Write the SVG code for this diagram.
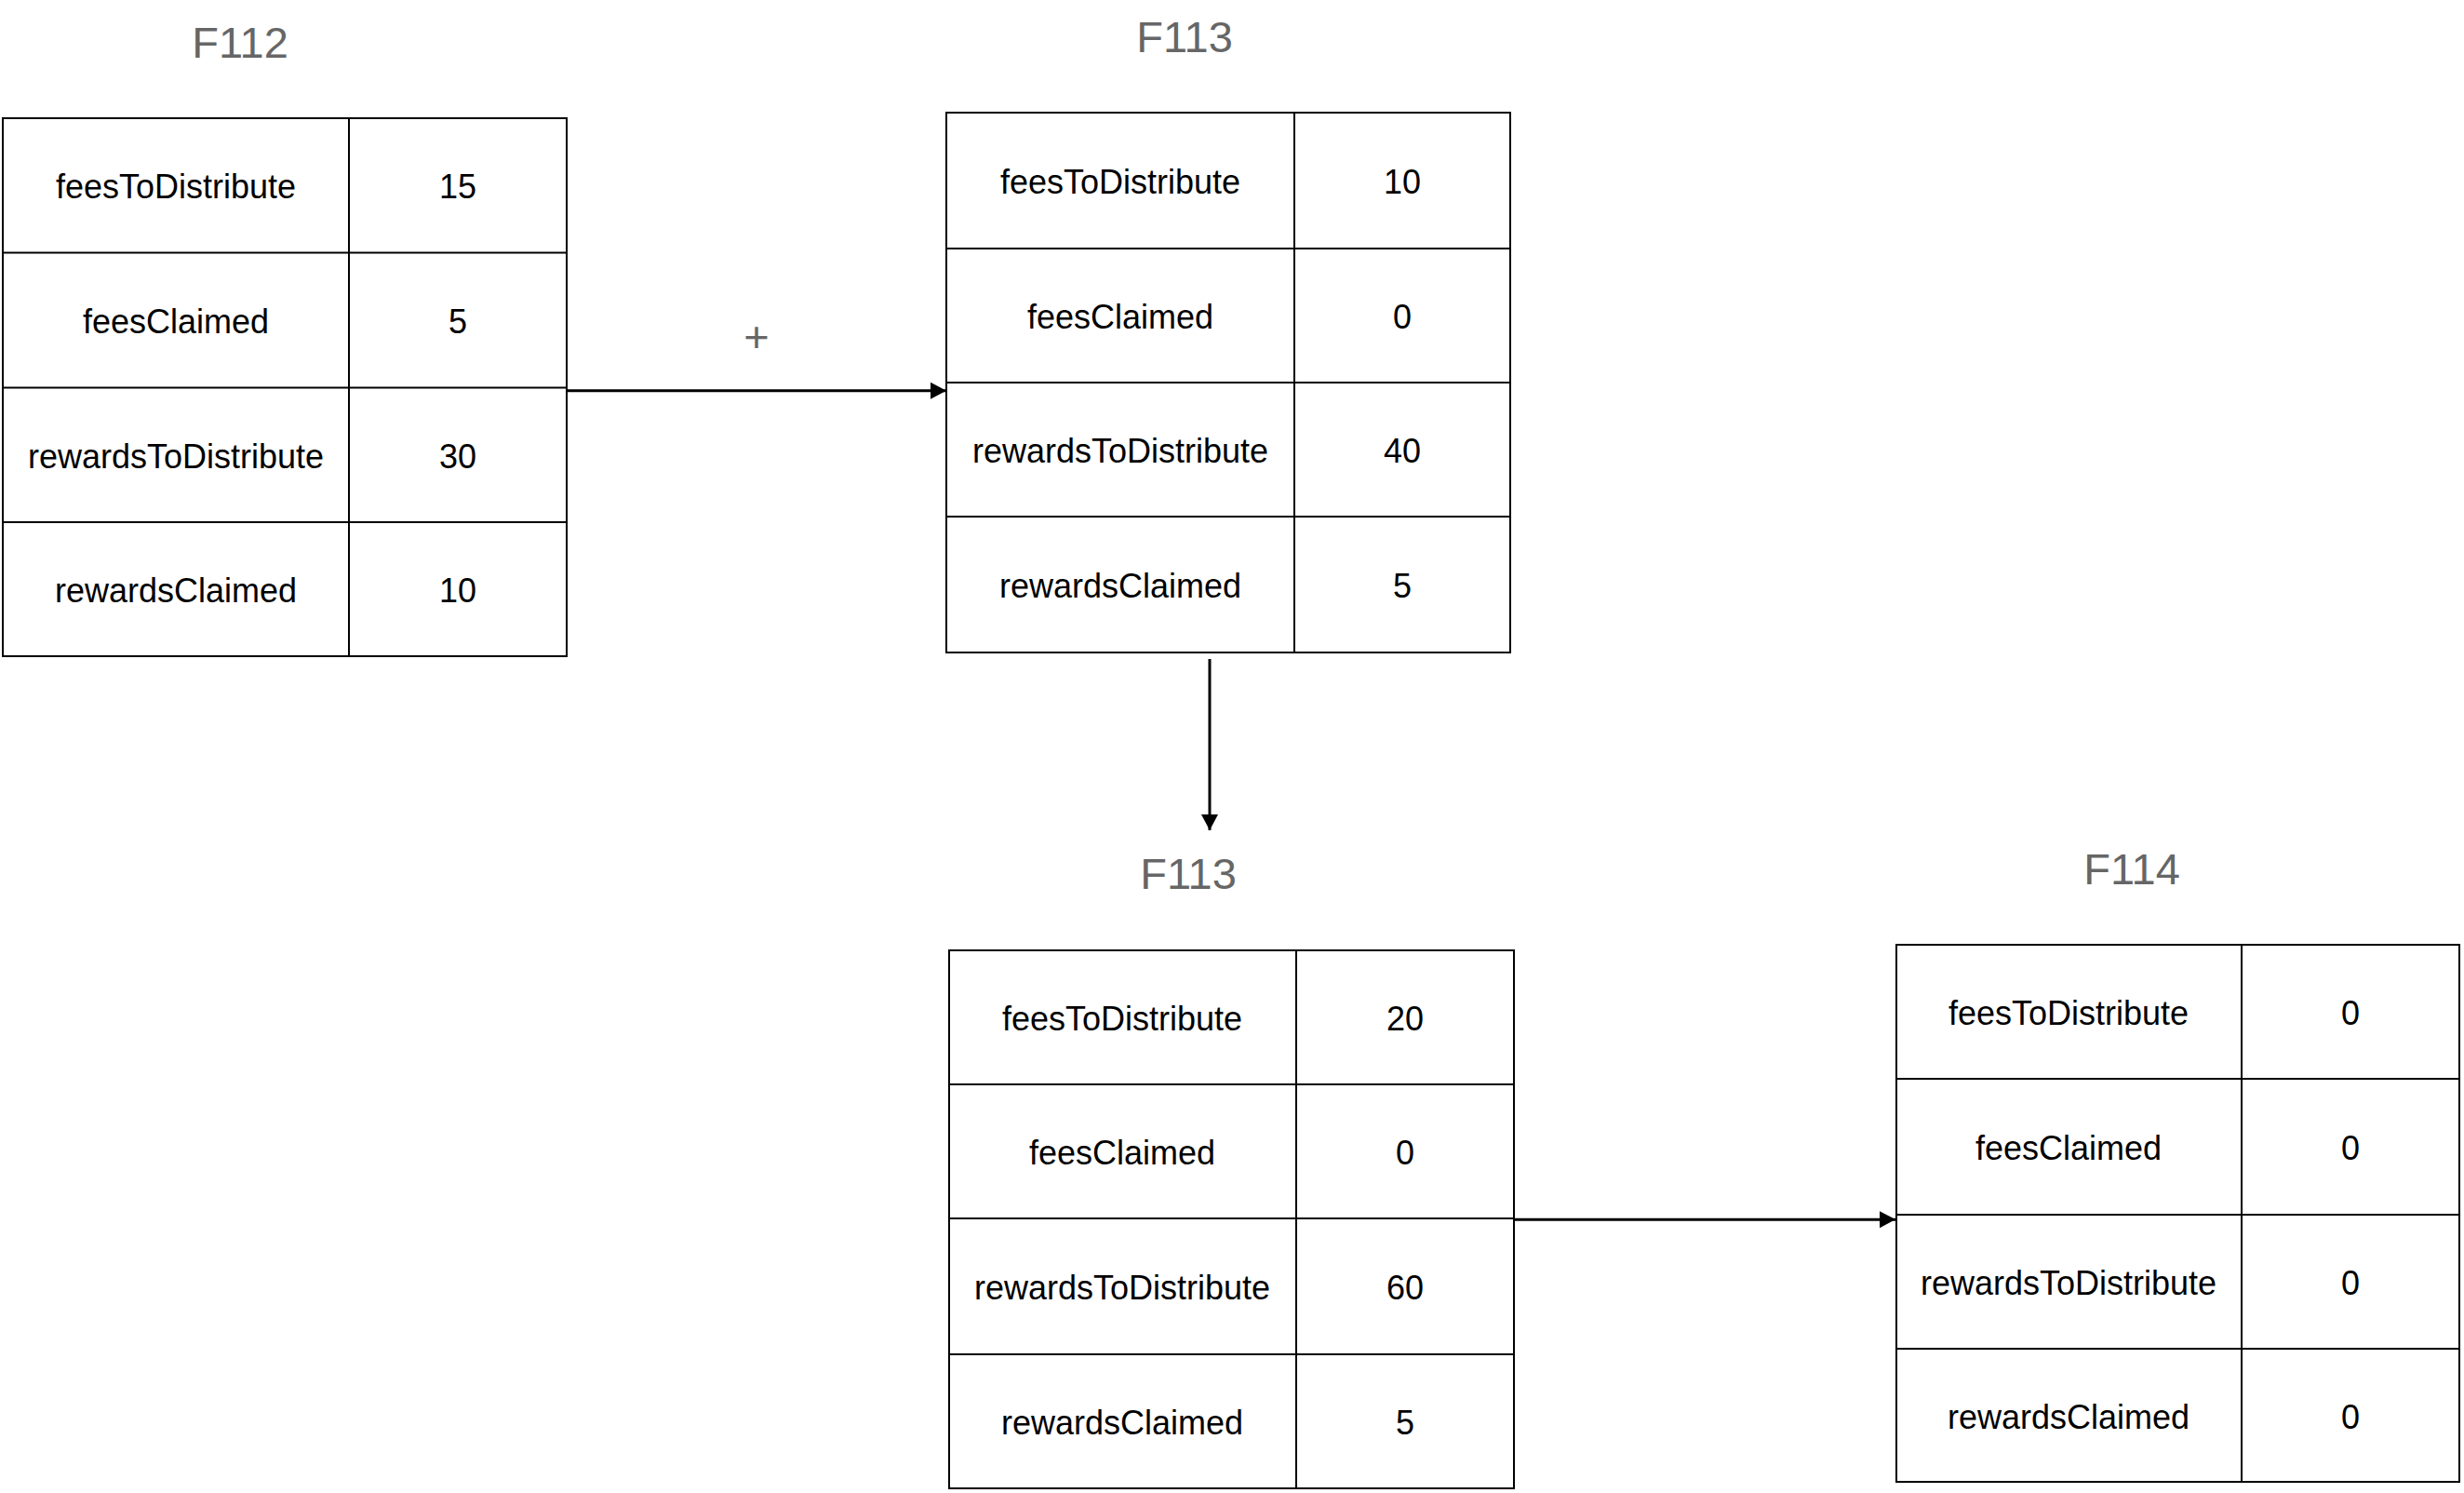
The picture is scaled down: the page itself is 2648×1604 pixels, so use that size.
<svg xmlns="http://www.w3.org/2000/svg" width="2648" height="1604" viewBox="0 0 2648 1604">
<style>
.cell{fill:#ffffff;stroke:#000000;stroke-width:2}
.t{font-family:"Liberation Sans",Arial,Helvetica,sans-serif;font-size:36px;fill:#000000;text-anchor:middle}
.title{font-family:"Liberation Sans",Arial,Helvetica,sans-serif;font-size:47px;fill:#666666;text-anchor:middle}
.edge{fill:none;stroke:#000000;stroke-width:3}
</style>
<defs>
<marker id="arr" markerUnits="userSpaceOnUse" markerWidth="18" markerHeight="20" refX="17" refY="9" orient="auto" viewBox="0 0 18 18">
<path d="M0,0 L17,9 L0,18 Z" fill="#000000"/>
</marker>
</defs>
<rect width="2648" height="1604" fill="#ffffff"/>

<g id="F112">
<text class="title" x="258" y="62">F112</text>
<rect class="cell" x="3" y="127" width="606" height="578"/>
<line class="cell" x1="3" y1="271.5" x2="609" y2="271.5"/>
<line class="cell" x1="3" y1="416.5" x2="609" y2="416.5"/>
<line class="cell" x1="3" y1="561" x2="609" y2="561"/>
<line class="cell" x1="375" y1="127" x2="375" y2="705"/>
<text class="t" x="189" y="213">feesToDistribute</text>
<text class="t" x="492" y="213">15</text>
<text class="t" x="189" y="358">feesClaimed</text>
<text class="t" x="492" y="358">5</text>
<text class="t" x="189" y="503">rewardsToDistribute</text>
<text class="t" x="492" y="503">30</text>
<text class="t" x="189" y="647">rewardsClaimed</text>
<text class="t" x="492" y="647">10</text>
</g>

<g id="F113a">
<text class="title" x="1273" y="56">F113</text>
<rect class="cell" x="1017" y="121" width="606" height="580"/>
<line class="cell" x1="1017" y1="267" x2="1623" y2="267"/>
<line class="cell" x1="1017" y1="411" x2="1623" y2="411"/>
<line class="cell" x1="1017" y1="555" x2="1623" y2="555"/>
<line class="cell" x1="1391" y1="121" x2="1391" y2="701"/>
<text class="t" x="1204" y="208">feesToDistribute</text>
<text class="t" x="1507" y="208">10</text>
<text class="t" x="1204" y="353">feesClaimed</text>
<text class="t" x="1507" y="353">0</text>
<text class="t" x="1204" y="497">rewardsToDistribute</text>
<text class="t" x="1507" y="497">40</text>
<text class="t" x="1204" y="642">rewardsClaimed</text>
<text class="t" x="1507" y="642">5</text>
</g>

<g id="F113b">
<text class="title" x="1277" y="955">F113</text>
<rect class="cell" x="1020" y="1021" width="607" height="578"/>
<line class="cell" x1="1020" y1="1165" x2="1627" y2="1165"/>
<line class="cell" x1="1020" y1="1309" x2="1627" y2="1309"/>
<line class="cell" x1="1020" y1="1455" x2="1627" y2="1455"/>
<line class="cell" x1="1393" y1="1021" x2="1393" y2="1599"/>
<text class="t" x="1206" y="1107">feesToDistribute</text>
<text class="t" x="1510" y="1107">20</text>
<text class="t" x="1206" y="1251">feesClaimed</text>
<text class="t" x="1510" y="1251">0</text>
<text class="t" x="1206" y="1396">rewardsToDistribute</text>
<text class="t" x="1510" y="1396">60</text>
<text class="t" x="1206" y="1541">rewardsClaimed</text>
<text class="t" x="1510" y="1541">5</text>
</g>

<g id="F114">
<text class="title" x="2291" y="950">F114</text>
<rect class="cell" x="2038" y="1015" width="605" height="577"/>
<line class="cell" x1="2038" y1="1159" x2="2643" y2="1159"/>
<line class="cell" x1="2038" y1="1305" x2="2643" y2="1305"/>
<line class="cell" x1="2038" y1="1449" x2="2643" y2="1449"/>
<line class="cell" x1="2409" y1="1015" x2="2409" y2="1592"/>
<text class="t" x="2223" y="1101">feesToDistribute</text>
<text class="t" x="2526" y="1101">0</text>
<text class="t" x="2223" y="1246">feesClaimed</text>
<text class="t" x="2526" y="1246">0</text>
<text class="t" x="2223" y="1391">rewardsToDistribute</text>
<text class="t" x="2526" y="1391">0</text>
<text class="t" x="2223" y="1535">rewardsClaimed</text>
<text class="t" x="2526" y="1535">0</text>
</g>

<g id="connectors">
<line class="edge" x1="609" y1="419.8" x2="1017" y2="419.8" marker-end="url(#arr)"/>
<text class="title" x="813" y="378">+</text>
<line class="edge" x1="1300" y1="708" x2="1300" y2="892" marker-end="url(#arr)"/>
<line class="edge" x1="1627" y1="1310.2" x2="2037" y2="1310.2" marker-end="url(#arr)"/>
</g>
</svg>
